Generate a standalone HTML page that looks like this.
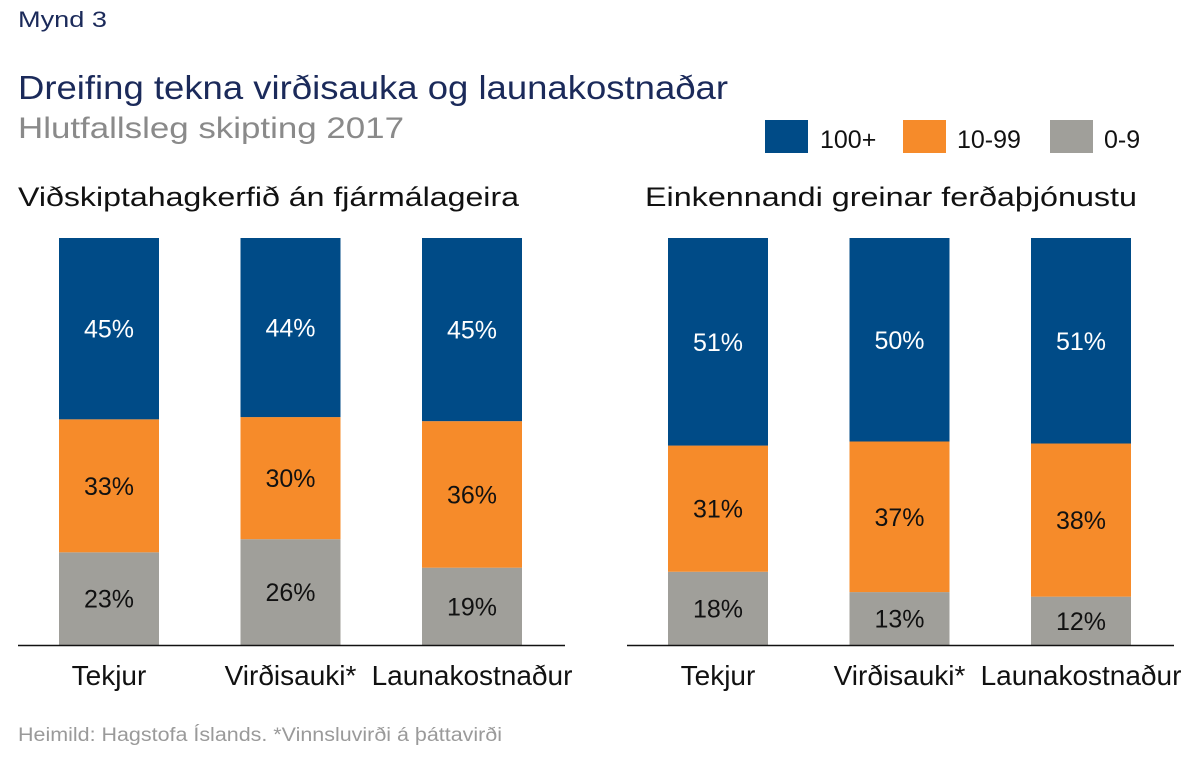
<!DOCTYPE html>
<html><head><meta charset="utf-8"><style>
body{margin:0;background:#fff;width:1200px;height:762px;overflow:hidden;font-family:"Liberation Sans",sans-serif}
</style></head><body>
<svg width="1200" height="762" xmlns="http://www.w3.org/2000/svg">
<text x="18" y="27" font-size="22" fill="#1b2a5a" textLength="89" lengthAdjust="spacingAndGlyphs">Mynd 3</text>
<text x="18" y="99" font-size="33" fill="#1b2a5a" textLength="710" lengthAdjust="spacingAndGlyphs">Dreifing tekna virðisauka og launakostnaðar</text>
<text x="18" y="138" font-size="30" fill="#8a8a8a" textLength="386" lengthAdjust="spacingAndGlyphs">Hlutfallsleg skipting 2017</text>
<g>
<rect x="765" y="120" width="43" height="33" fill="#004b87"/>
<text x="820" y="148" font-size="25" fill="#111">100+</text>
<rect x="903" y="120" width="43" height="33" fill="#f68b2a"/>
<text x="957" y="148" font-size="25" fill="#111">10-99</text>
<rect x="1050" y="120" width="43" height="33" fill="#a09f9a"/>
<text x="1104" y="148" font-size="25" fill="#111">0-9</text>
</g>
<text x="18" y="206" font-size="27" fill="#111" textLength="501" lengthAdjust="spacingAndGlyphs">Viðskiptahagkerfið án fjármálageira</text>
<text x="645" y="206" font-size="27" fill="#111" textLength="492" lengthAdjust="spacingAndGlyphs">Einkennandi greinar ferðaþjónustu</text>
<g id="bars"></g>
<line x1="18" y1="645.5" x2="565" y2="645.5" stroke="#111" stroke-width="1.5"/>
<line x1="627" y1="645.5" x2="1174" y2="645.5" stroke="#111" stroke-width="1.5"/>
<text x="18" y="741" font-size="19" fill="#9a9a9a" textLength="484" lengthAdjust="spacingAndGlyphs">Heimild: Hagstofa Íslands. *Vinnsluvirði á þáttavirði</text>
</svg>
<script>
const categories=["Tekjur","Virðisauki*","Launakostnaður"];
const leftLarge=[45,44,45];
const leftMid=[33,30,36];
const leftSmall=[23,26,19];
const rightLarge=[51,50,51];
const rightMid=[31,37,38];
const rightSmall=[18,13,12];
const NS="http://www.w3.org/2000/svg";
const barsG=document.getElementById('bars');
const baseY=645,plotTop=238,barW=100;
function yScale(v,total){return baseY-(v/total)*(baseY-plotTop);}
function mk(tag,a){const e=document.createElementNS(NS,tag);for(const k in a)e.setAttribute(k,a[k]);barsG.appendChild(e);return e;}
function panel(name,x0,L,M,S){
  const step=181.5;
  categories.forEach((c,i)=>{
    const x=x0+i*step;const tot=L[i]+M[i]+S[i];
    const segs=[[S[i],0,"#a09f9a","small","#111"],[M[i],S[i],"#f68b2a","mid","#111"],[L[i],S[i]+M[i],"#004b87","large","#fff"]];
    segs.forEach(s=>{
      const y1=yScale(s[1]+s[0],tot),y0=yScale(s[1],tot);
      const r=mk('rect',{x:x,y:y1,width:barW,height:y0-y1,fill:s[2]});
      
      
      const t=mk('text',{x:x+barW/2,y:(y0+y1)/2+9,'font-size':25,fill:s[4],'text-anchor':'middle'});
      t.textContent=s[0]+'%';
      
      
    });
    const lt=mk('text',{x:x+barW/2,y:685,'font-size':28,fill:'#111','text-anchor':'middle'});
    lt.textContent=c;
    
    
  });
}
panel('left',59,leftLarge,leftMid,leftSmall);
panel('right',668,rightLarge,rightMid,rightSmall);
</script>
</body></html>
